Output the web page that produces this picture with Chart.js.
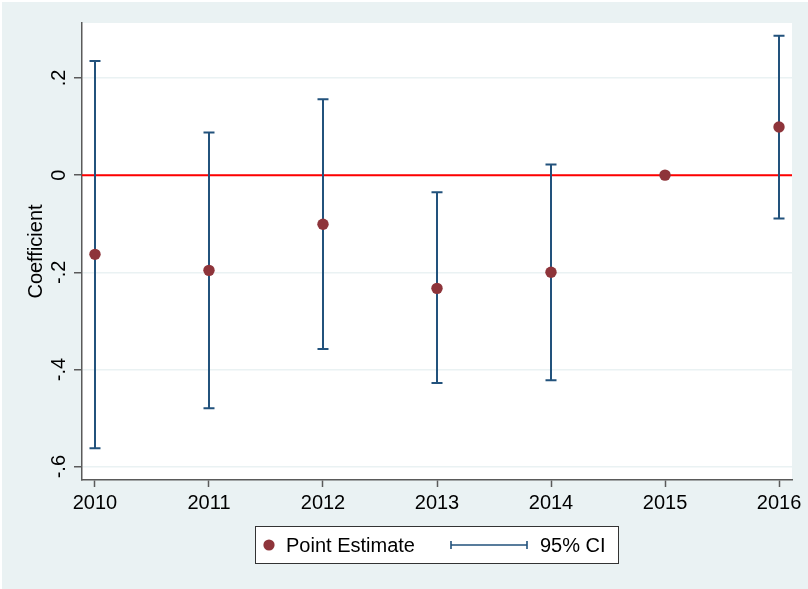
<!DOCTYPE html>
<html>
<head>
<meta charset="utf-8">
<title>Coefficient estimates by year</title>
<script src="https://cdn.jsdelivr.net/npm/chart.js@4.4.1/dist/chart.umd.min.js"></script>
<style>
  html, body { margin: 0; padding: 0; background: #ffffff; }
  #wrap { width: 808px; height: 589px; position: relative; }
  canvas { display: block; }
</style>
</head>
<body>
<div id="wrap"><canvas id="chart" width="808" height="589"></canvas></div>
<script>
// Event-study style coefficients with 95% confidence intervals
const years = [2010, 2011, 2012, 2013, 2014, 2015, 2016];
const estimates = [-0.163, -0.196, -0.101, -0.233, -0.200, 0.0, 0.099];
const ciLow = [-0.562, -0.480, -0.358, -0.428, -0.422, 0.0, -0.089];
const ciHigh = [0.235, 0.088, 0.156, -0.035, 0.022, 0.0, 0.287];

const yTickValues = [-0.6, -0.4, -0.2, 0, 0.2];
const yTickLabels = ['-.6', '-.4', '-.2', '0', '.2'];

const yTitle = 'Coefficient';
const legendLabels = ['Point Estimate', '95% CI'];

const FONT = "'Liberation Sans', Arial, Helvetica, sans-serif";
const FONT_SIZE = 20;
const BG = '#EAF2F3';
const POINT_COLOR = '#8E343A';
const CI_COLOR = '#22527C';
const AXIS_COLOR = '#5a5a5a';

// background: graph region fill
const backgroundPlugin = {
  id: 'bg',
  beforeDraw(chart) {
    const { ctx, width, height, chartArea } = chart;
    ctx.save();
    ctx.fillStyle = '#ffffff';
    ctx.fillRect(0, 0, width, height);
    ctx.fillStyle = BG;
    ctx.fillRect(2, 2, width - 2, height - 2);
    ctx.fillStyle = '#ffffff';
    ctx.fillRect(chartArea.left, chartArea.top, chartArea.right - chartArea.left, chartArea.bottom - chartArea.top);
    ctx.restore();
  }
};

// zero reference line and confidence-interval whiskers
const intervalPlugin = {
  id: 'intervals',
  beforeDatasetsDraw(chart) {
    const { ctx, chartArea, scales: { x, y } } = chart;
    ctx.save();
    // zero line
    const y0 = y.getPixelForValue(0);
    ctx.strokeStyle = '#FF0000';
    ctx.lineWidth = 2;
    ctx.beginPath();
    ctx.moveTo(chartArea.left, y0);
    ctx.lineTo(chartArea.right, y0);
    ctx.stroke();

    // whiskers
    ctx.strokeStyle = CI_COLOR;
    ctx.lineWidth = 2;
    const cap = 5.5;
    years.forEach((yr, i) => {
      if (ciLow[i] === ciHigh[i]) return;
      const px = x.getPixelForValue(yr);
      const pLo = y.getPixelForValue(ciLow[i]);
      const pHi = y.getPixelForValue(ciHigh[i]);
      ctx.beginPath();
      ctx.moveTo(px, pLo);
      ctx.lineTo(px, pHi);
      ctx.moveTo(px - cap, pLo);
      ctx.lineTo(px + cap, pLo);
      ctx.moveTo(px - cap, pHi);
      ctx.lineTo(px + cap, pHi);
      ctx.stroke();
    });
    ctx.restore();
  }
};

// vertical y tick labels, y title and the boxed legend
const labelsPlugin = {
  id: 'labels',
  afterDraw(chart) {
    const { ctx, chartArea, scales: { y } } = chart;
    ctx.save();
    ctx.fillStyle = '#000000';
    ctx.font = FONT_SIZE + 'px ' + FONT;
    ctx.textAlign = 'center';
    ctx.textBaseline = 'middle';
    y.ticks.forEach((t) => {
      const py = y.getPixelForValue(t.value);
      const idx = yTickValues.findIndex(v => Math.abs(v - t.value) < 1e-9);
      if (idx < 0) return;
      ctx.save();
      ctx.translate(59, py);
      ctx.rotate(-Math.PI / 2);
      ctx.fillText(yTickLabels[idx], 0, 0);
      ctx.restore();
    });

    // axis title
    ctx.save();
    ctx.translate(36, (chartArea.top + chartArea.bottom) / 2);
    ctx.rotate(-Math.PI / 2);
    ctx.fillText(yTitle, 0, 0);
    ctx.restore();

    // legend box
    const bx = 255.5, by = 526.5, bw = 363, bh = 37;
    ctx.fillStyle = '#ffffff';
    ctx.fillRect(bx, by, bw, bh);
    ctx.strokeStyle = '#333333';
    ctx.lineWidth = 1;
    ctx.strokeRect(bx, by, bw, bh);
    const cy = by + bh / 2;

    ctx.fillStyle = POINT_COLOR;
    ctx.beginPath();
    ctx.arc(269, cy, 5.6, 0, Math.PI * 2);
    ctx.fill();

    ctx.fillStyle = '#000000';
    ctx.textAlign = 'left';
    ctx.fillText(legendLabels[0], 286, cy + 1);

    ctx.strokeStyle = CI_COLOR;
    ctx.beginPath();
    ctx.moveTo(451, cy);
    ctx.lineTo(527, cy);
    ctx.moveTo(451, cy - 4);
    ctx.lineTo(451, cy + 4);
    ctx.moveTo(527, cy - 4);
    ctx.lineTo(527, cy + 4);
    ctx.lineWidth = 1.6;
    ctx.stroke();

    ctx.fillStyle = '#000000';
    ctx.fillText(legendLabels[1], 540, cy + 1);
    ctx.restore();
  }
};

new Chart(document.getElementById('chart'), {
  type: 'scatter',
  data: {
    datasets: [{
      label: legendLabels[0],
      data: years.map((yr, i) => ({ x: yr, y: estimates[i] })),
      backgroundColor: POINT_COLOR,
      borderColor: POINT_COLOR,
      borderWidth: 0,
      pointRadius: 5.7,
      pointHoverRadius: 5.7
    }]
  },
  options: {
    responsive: false,
    animation: false,
    events: [],
    layout: { padding: { left: 0, top: 23, right: 16, bottom: 0 } },
    plugins: {
      legend: { display: false },
      tooltip: { enabled: false }
    },
    scales: {
      x: {
        type: 'linear',
        min: 2009.886,
        max: 2016.114,
        afterBuildTicks(scale) {
          scale.ticks = years.map(v => ({ value: v }));
        },
        afterFit(scale) { scale.height = 109; },
        ticks: {
          color: '#000000',
          font: { family: FONT, size: FONT_SIZE },
          padding: 4,
          maxRotation: 0,
          autoSkip: false,
          callback: (v) => String(v)
        },
        grid: {
          drawOnChartArea: false,
          drawTicks: true,
          tickLength: 7,
          tickColor: AXIS_COLOR,
          tickWidth: 1.5
        },
        border: { color: AXIS_COLOR, width: 1.5 }
      },
      y: {
        type: 'linear',
        min: -0.6275,
        max: 0.3132,
        afterBuildTicks(scale) {
          scale.ticks = yTickValues.map(v => ({ value: v }));
        },
        afterFit(scale) { scale.width = 82; },
        ticks: { display: false },
        grid: {
          color: '#EAF2F3',
          lineWidth: 1.5,
          drawTicks: true,
          tickLength: 8,
          tickColor: AXIS_COLOR,
          tickWidth: 1.5
        },
        border: { color: AXIS_COLOR, width: 1.5 }
      }
    }
  },
  plugins: [backgroundPlugin, intervalPlugin, labelsPlugin]
});
</script>
</body>
</html>
